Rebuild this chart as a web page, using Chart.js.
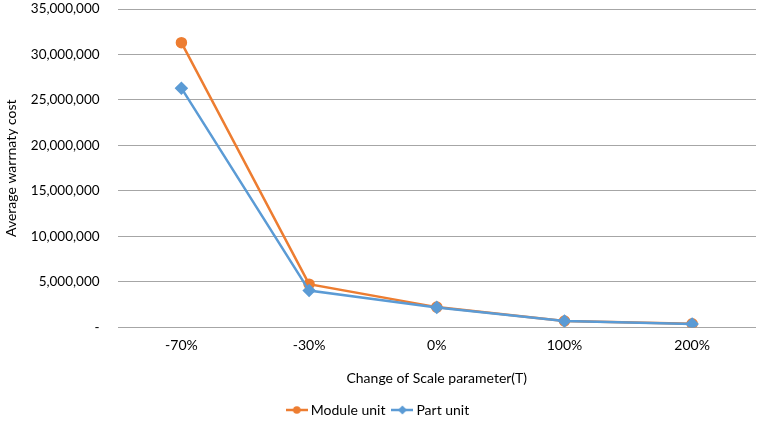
<!DOCTYPE html>
<html>
<head>
<meta charset="utf-8">
<script src="https://cdn.jsdelivr.net/npm/chart.js@4/dist/chart.umd.min.js"></script>
<style>
html,body{margin:0;padding:0;background:#fff;}
#wrap{width:760px;height:425px;position:relative;}
</style>
</head>
<body>
<div id="wrap"><canvas id="c" width="760" height="425"></canvas></div>
<script>
const categories = ['-70%', '-30%', '0%', '100%', '200%'];
const moduleUnit = [31300000, 4750000, 2230000, 700000, 400000];
const partUnit = [26300000, 4050000, 2200000, 700000, 380000];
const seriesNames = ['Module unit', 'Part unit'];
const yTitle = 'Average warrnaty cost';
const xTitle = 'Change of Scale parameter(T)';

const ORANGE = '#ED7D31';
const BLUE = '#5B9BD5';

function legendIcon(color, style) {
  const cv = document.createElement('canvas');
  cv.width = 22; cv.height = 10;
  const g = cv.getContext('2d');
  g.strokeStyle = color; g.lineWidth = 2.5;
  g.beginPath(); g.moveTo(0, 5); g.lineTo(22, 5); g.stroke();
  g.fillStyle = color;
  g.beginPath();
  if (style === 'circle') { g.arc(11, 5, 3.8, 0, Math.PI * 2); }
  else { g.moveTo(11, 0.5); g.lineTo(15.5, 5); g.lineTo(11, 9.5); g.lineTo(6.5, 5); g.closePath(); }
  g.fill();
  return cv;
}
const icons = [legendIcon(ORANGE, 'circle'), legendIcon(BLUE, 'rectRot')];

const font = "Lato, 'Open Sans', sans-serif";
Chart.defaults.font.family = font;
Chart.defaults.color = '#404040';

new Chart(document.getElementById('c'), {
  type: 'line',
  data: {
    labels: categories,
    datasets: [
      { label: seriesNames[0], data: moduleUnit, borderColor: ORANGE, backgroundColor: ORANGE, order: 1,
        borderWidth: 2.5, pointStyle: 'circle', pointRadius: 4.5, pointHoverRadius: 4.5, tension: 0 },
      { label: seriesNames[1], data: partUnit, borderColor: BLUE, backgroundColor: BLUE, order: 0,
        borderWidth: 2.5, pointStyle: 'rectRot', pointRadius: 5, pointHoverRadius: 5, tension: 0 }
    ]
  },
  options: {
    responsive: false,
    animation: false,
    layout: { autoPadding: false, padding: { left: 3, right: 4, top: 9, bottom: -2 } },
    plugins: {
      legend: {
        position: 'bottom',
        labels: {
          usePointStyle: true,
          color: '#000',
          font: { size: 14, family: font },
          padding: 10,
          generateLabels(chart) {
            return chart.data.datasets.map((ds, i) => ({
              text: ds.label, pointStyle: icons[i], fillStyle: ds.borderColor,
              strokeStyle: ds.borderColor, lineWidth: 0, hidden: false, datasetIndex: i, fontColor: '#000'
            }));
          }
        }
      },
      tooltip: { enabled: false }
    },
    scales: {
      x: {
        offset: true,
        grid: { display: false, drawTicks: false },
        border: { display: false },
        ticks: { color: '#000', font: { size: 14 }, padding: 10 },
        title: { display: true, text: xTitle, color: '#000', font: { size: 14 }, padding: { top: 6, bottom: 6 } }
      },
      y: {
        min: 0, max: 35000000,
        afterFit(scale) { scale.paddingTop = 0; scale.paddingBottom = 0; },
        grid: { color: '#a6a6a6', lineWidth: 1, drawTicks: false },
        border: { display: false },
        ticks: {
          stepSize: 5000000, color: '#000', font: { size: 13.5 }, padding: 18,
          callback: v => v === 0 ? '-' : v.toLocaleString('en-US')
        },
        title: { display: true, text: yTitle, color: '#000', font: { size: 14 }, padding: { top: 0, bottom: -7 } }
      }
    }
  }
});
</script>
</body>
</html>
